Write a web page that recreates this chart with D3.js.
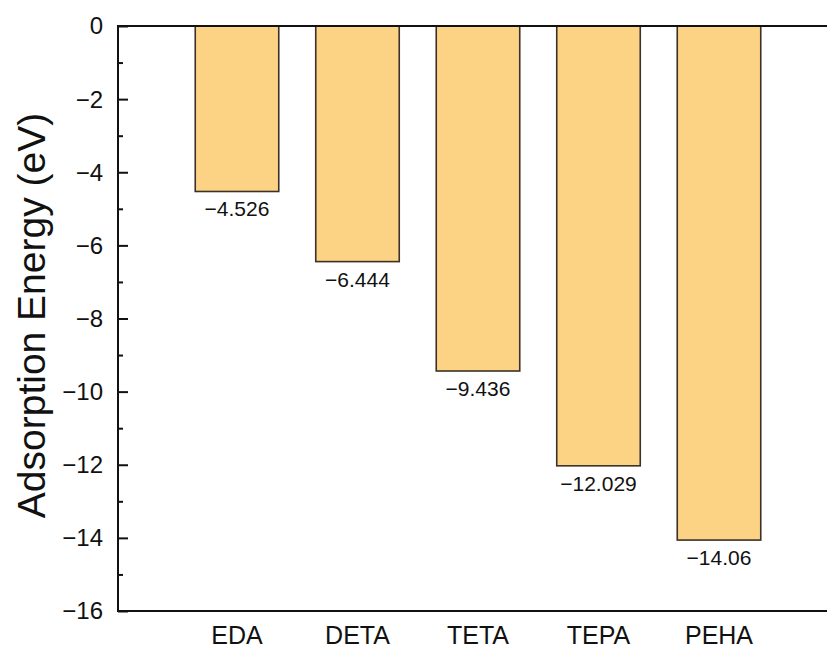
<!DOCTYPE html>
<html>
<head>
<meta charset="utf-8">
<script src="https://cdn.jsdelivr.net/npm/d3@7/dist/d3.min.js"></script>
<style>
  html, body { margin: 0; padding: 0; background: #fff; }
  svg { display: block; font-family: Arial, "Liberation Sans", sans-serif; }
</style>
</head>
<body>
<svg id="chart" width="827" height="648"></svg>
<script>
// Amine adsorption energies (eV)
const categories = ["EDA", "DETA", "TETA", "TEPA", "PEHA"];
const energies = [-4.526, -6.444, -9.436, -12.029, -14.06];
const valueLabels = ["\u22124.526", "\u22126.444", "\u22129.436", "\u221212.029", "\u221214.06"];
const yMajorTicks = [0, -2, -4, -6, -8, -10, -12, -14, -16];
const yMinorTicks = [-1, -3, -5, -7, -9, -11, -13, -15];

const svg = d3.select("#chart");
const plotLeft = 118, plotRight = 840, plotTop = 26, plotBottom = 611;

// Category positions: evenly spaced, half a step of margin on each side
const x = d3.scaleBand()
  .domain(categories)
  .range([plotLeft - 1.5, plotRight - 0.5])
  .paddingInner(0.307)
  .paddingOuter(0.5 + 0.307 / 2);
const y = d3.scaleLinear().domain([0, -16]).range([plotTop, plotBottom]);

const fmt = d => (d < 0 ? "\u2212" + Math.abs(d) : String(d));

// Bars hang down from zero
svg.append("g").selectAll("rect")
  .data(energies)
  .join("rect")
  .attr("x", (d, i) => x(categories[i]))
  .attr("y", y(0))
  .attr("width", x.bandwidth())
  .attr("height", d => y(d) - y(0))
  .attr("fill", "#FCD285")
  .attr("stroke", "#3a3228")
  .attr("stroke-width", 1.6);

// Value labels below each bar
svg.append("g").selectAll("text")
  .data(energies)
  .join("text")
  .attr("x", (d, i) => x(categories[i]) + x.bandwidth() / 2)
  .attr("y", d => y(d) + 25)
  .attr("text-anchor", "middle")
  .attr("font-size", 21)
  .attr("fill", "#111")
  .text((d, i) => valueLabels[i]);

// Left axis with inward ticks
const yAxis = d3.axisRight(y)
  .tickValues(yMajorTicks)
  .tickSize(10)
  .tickFormat("");
const gy = svg.append("g").attr("transform", `translate(${plotLeft},0)`).call(yAxis);
gy.select(".domain").remove();
gy.selectAll(".tick line").attr("stroke", "#111").attr("stroke-width", 2);

const yMinor = d3.axisRight(y).tickValues(yMinorTicks).tickSize(5).tickFormat("");
const gyMinor = svg.append("g").attr("transform", `translate(${plotLeft},0)`).call(yMinor);
gyMinor.select(".domain").remove();
gyMinor.selectAll(".tick line").attr("stroke", "#111").attr("stroke-width", 2);

// Tick labels
svg.append("g").selectAll("text")
  .data(yMajorTicks)
  .join("text")
  .attr("x", 103)
  .attr("y", d => y(d))
  .attr("dy", "0.35em")
  .attr("text-anchor", "end")
  .attr("font-size", 24)
  .attr("fill", "#111")
  .text(fmt);

// Frame
svg.append("rect")
  .attr("x", plotLeft).attr("y", plotTop)
  .attr("width", plotRight - plotLeft).attr("height", plotBottom - plotTop)
  .attr("fill", "none")
  .attr("stroke", "#111")
  .attr("stroke-width", 2);

// Category labels
const xAxis = d3.axisBottom(x).tickSize(0).tickPadding(0);
const gx = svg.append("g").attr("transform", `translate(0,${plotBottom})`).call(xAxis);
gx.select(".domain").remove();
gx.selectAll(".tick text")
  .attr("y", 33)
  .attr("dy", 0)
  .attr("font-size", 25)
  .attr("font-family", "Arial, 'Liberation Sans', sans-serif")
  .attr("fill", "#111");

// Y axis title
svg.append("text")
  .attr("transform", `translate(45,${(plotTop + plotBottom) / 2 - 3}) rotate(-90)`)
  .attr("text-anchor", "middle")
  .attr("font-size", 39)
  .attr("fill", "#111")
  .text("Adsorption Energy (eV)");
</script>
</body>
</html>
